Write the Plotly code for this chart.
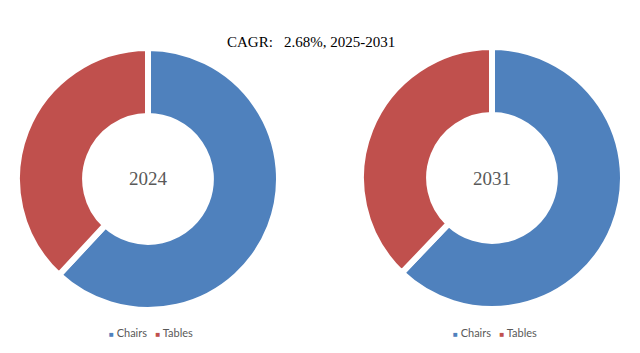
import plotly.graph_objects as go

categories = ["Chairs", "Tables"]
share_2024 = [61.9, 38.1]
share_2031 = [62.1, 37.9]
years = ["2024", "2031"]
colors = ["#4F81BD", "#C0504D"]
title_text = "CAGR:\u00a0\u00a0\u00a02.68%, 2025-2031"

W, H = 640, 353

def dom(cx, cy, r):
    return dict(x=[(cx - r) / W, (cx + r) / W], y=[(H - cy - r) / H, (H - cy + r) / H])

fig = go.Figure()
fig.add_trace(go.Pie(
    labels=categories, values=share_2024, sort=False, direction="clockwise", rotation=0,
    hole=0.48, marker=dict(colors=colors, line=dict(color="white", width=6)),
    textinfo="none", hoverinfo="label+percent", domain=dom(148, 179, 131),
))
fig.add_trace(go.Pie(
    labels=categories, values=share_2031, sort=False, direction="clockwise", rotation=0,
    hole=0.48, marker=dict(colors=colors, line=dict(color="white", width=6)),
    textinfo="none", hoverinfo="label+percent", domain=dom(492, 178, 131),
))

legend_text = "\u00a0\u00a0\u00a0".join(
    f"<span style='color:{c};font-size:8px'>■</span>\u00a0{lab}" for lab, c in zip(categories, colors)
)

def ann(text, x, y, size, family, color):
    return dict(text=text, x=x / W, y=(H - y) / H, xref="paper", yref="paper",
                xanchor="center", yanchor="middle", showarrow=False,
                font=dict(family=family, size=size, color=color))

fig.update_layout(
    width=W, height=H, margin=dict(l=0, r=0, t=0, b=0),
    paper_bgcolor="white", plot_bgcolor="white",
    showlegend=False,
    annotations=[
        ann(title_text, 311, 42, 15, "Liberation Serif, serif", "#000000"),
        ann(years[0], 148, 179, 19, "Liberation Serif, serif", "#595959"),
        ann(years[1], 492, 178, 19, "Liberation Serif, serif", "#595959"),
        ann(legend_text, 151, 332, 11, "Lato, sans-serif", "#595959"),
        ann(legend_text, 495, 332, 11, "Lato, sans-serif", "#595959"),
    ],
)

fig.write_html("out.html")
